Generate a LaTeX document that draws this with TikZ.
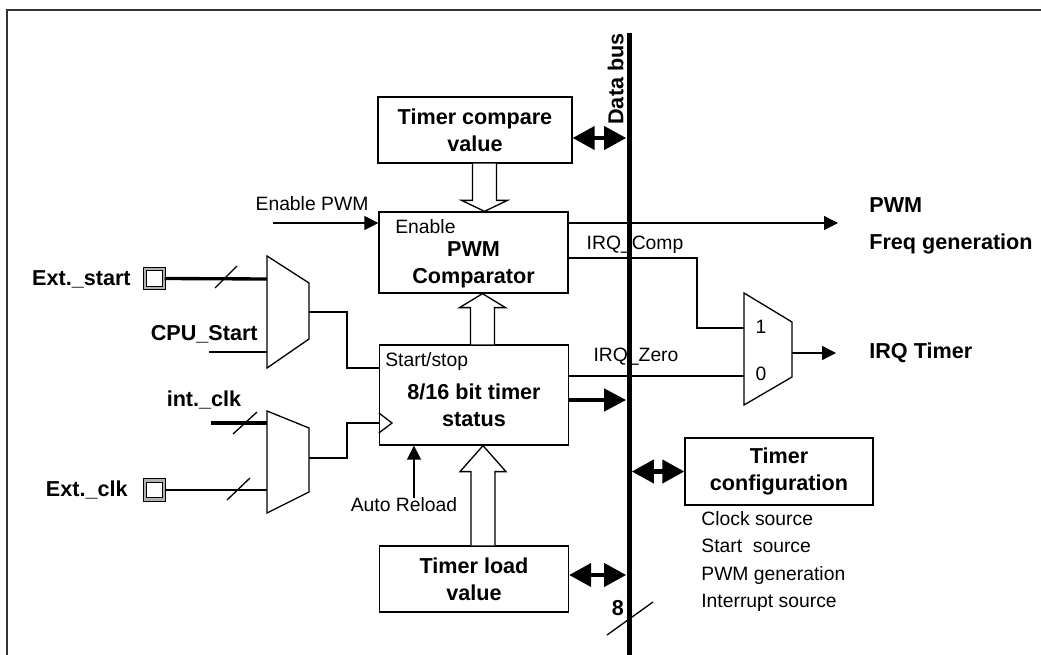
\documentclass[tikz,border=0pt]{standalone}
\usepackage{fontspec}
\setmainfont{Liberation Sans}
\usetikzlibrary{arrows.meta,calc}

% block arrow: x, tail anchor, tip anchor, signed head length
\newcommand{\hollowarrow}[4]{%
  \draw[hollow] (#1-12,0 |- #2) -- ($(#1-12,0 |- #3)+(0,#4)$) -- ($(#1-23,0 |- #3)+(0,#4)$)
    -- (#1,0 |- #3) -- ($(#1+23,0 |- #3)+(0,#4)$) -- ($(#1+12,0 |- #3)+(0,#4)$) -- (#1+12,0 |- #2);}

\begin{document}
\begin{tikzpicture}[x=0.02cm, y=-0.02cm,
  every node/.style={inner sep=0pt, font=\fontsize{11}{13}\selectfont},
  blk/.style={draw, line width=0.75pt, minimum width=3.78cm},
  btxt/.style={font=\fontsize{12.3}{15.3}\selectfont\bfseries, align=center},
  wire/.style={line width=0.75pt},
  arr/.style={wire, -{Triangle[length=0.28cm, width=0.28cm]}},
  fat/.style={line width=2.3pt, -{Triangle[length=0.44cm, width=0.44cm]}},
  bidir/.style={line width=2.3pt, {Triangle[length=0.44cm, width=0.46cm]}-{Triangle[length=0.44cm, width=0.46cm]}},
  hollow/.style={draw, line width=0.75pt, fill=white},
  pad/.style={draw=black, line width=0.6pt, double=gray!60, double distance=1.4pt, fill=white, minimum size=0.38cm},
  mux/.style={draw, line width=0.75pt, fill=white}]

\useasboundingbox (0,0) rectangle (1041,655);
\draw[line width=1pt, black!80] (7,655) -- (7,10) -- (1041,10);

% Blocks
\node[blk, btxt, minimum width=3.88cm, minimum height=1.32cm] (cv) at (475,130) {Timer compare\\value};
\node[blk, minimum height=1.62cm] (cmp) at (473.5,252.5) {};
\node[blk, minimum height=2cm] (tmr) at (474,395) {};
\node[blk, btxt, minimum height=1.32cm] (ld) at (474,579) {Timer load\\value};
\node[blk, btxt, minimum width=3.76cm, minimum height=1.34cm] (cfg) at (779,471.5) {Timer\\configuration};

\node[anchor=west] (cmpen) at (395,227) {Enable};
\node[btxt] (cmptxt) at (473.5,265) {PWM\\Comparator};
\node[anchor=west] (tmrst) at (385,362) {Start/stop};
\node[btxt] (tmrtxt) at (474,405) {8/16 bit timer\\status};
\node[anchor=north west, align=left, font=\fontsize{11}{15.6}\selectfont] (cfgl) at (701,511)
  {Clock source\\Start~ source\\PWM generation\\Interrupt source};

% Block arrows
\hollowarrow{484.5}{cv.south}{cmp.north}{-11}
\hollowarrow{482.5}{tmr.north}{cmp.south}{14}
\hollowarrow{483}{ld.north}{tmr.south}{26}

% Muxes
\draw[mux] (267,256) -- (309,283) -- (309,339) -- (267,368) -- cycle;
\coordinate (smux-a) at (267,279);
\coordinate (smux-b) at (267,352);
\coordinate (smux-o) at (309,312);
\draw[mux] (267,411) -- (309,428) -- (309,492) -- (267,513) -- cycle;
\coordinate (cmux-a) at (267,423);
\coordinate (cmux-b) at (267,490);
\coordinate (cmux-o) at (309,458);
\draw[mux] (744,293) -- (792,322) -- (792,377) -- (744,405) -- cycle;
\coordinate (imux-1) at (744,328);
\coordinate (imux-0) at (744,376);
\coordinate (imux-o) at (792,353);
\node (m1) at (761,327) {1};
\node (m0) at (761,374) {0};

% Inputs
\node[pad] (pst) at (154.5,278.5) {};
\node[btxt, anchor=east] (lst) at (131,279) {Ext.\_start};
\node[btxt, anchor=east] (lcpu) at (258,334) {CPU\_Start};
\node[btxt] (lint) at (204,400) {int.\_clk};
\node[pad] (pclk) at (154.5,490) {};
\node[btxt, anchor=east] (lclk) at (128,490) {Ext.\_clk};
\coordinate (cpu) at (209,352);
\coordinate (intc) at (211,423);

\draw[line width=1.9pt] (pst.east) -- (smux-a);
\draw[wire] (215,288) -- (237,266);
\draw[wire] (cpu) -- (smux-b);
\draw[line width=2.5pt] (intc) -- (cmux-a);
\draw[wire] (233,434) -- (257,412);
\draw[line width=1.3pt] (pclk.east) -- (cmux-b);
\draw[wire] (227,500) -- (250,478);

% Timer inputs
\coordinate (tmr-st) at (tmr.west |- 0,368);
\coordinate (tmr-ck) at (tmr.west |- 0,423);
\draw[wire] (smux-o) -| (347,340) |- (tmr-st);
\draw[wire] (cmux-o) -| (347,440) |- (tmr-ck);
\draw[wire] (tmr.west |- 0,413) -- (392,423) -- (tmr.west |- 0,433);
\node (arl) at (404,505) {Auto Reload};
\draw[arr] (arl.north -| 414,0) -- (tmr.south -| 414,0);

\node (lenp) at (312,204) {Enable PWM};
\coordinate (enp) at (273,223);
\draw[arr] (enp) -- (cmp.west |- enp);

% Outputs
\coordinate (pwmo) at (838,223);
\coordinate (irqo) at (836,353);
\draw[arr] (cmp.east |- 0,223) -- (pwmo);
\draw[wire] (cmp.east |- 0,258) -| (697,300) |- (imux-1);
\draw[wire] (tmr.east |- 0,376) -- (imux-0);
\draw[arr] (imux-o) -- (irqo);
\node (lcmp) at (635,245) {IRQ\_Comp};
\node (lzero) at (636,357) {IRQ\_Zero};
\node[btxt, anchor=west] (lpwm) at (869,205) {PWM};
\node[btxt, anchor=west] (lfreq) at (869,244) {Freq generation};
\node[btxt, anchor=west] (lirq) at (869,353) {IRQ Timer};

% Data bus
\node[fill=black, minimum width=0.1cm, minimum height=12.44cm] (bus) at (629,344) {};
\node[btxt, rotate=90, anchor=south east] (lbus) at (624,33) {Data bus};
\draw[bidir] (cv.east |- 0,138) -- (bus.west |- 0,138);
\draw[fat] (tmr.east |- 0,400) -- (bus.west |- 0,400);
\draw[bidir] (ld.east |- 0,575) -- (bus.west |- 0,575);
\draw[bidir] (bus.east |- cfg.west) -- (cfg.west);
\node[btxt] (l8) at (618,608) {8};
\draw[wire] (607,635) -- (653,602);
\end{tikzpicture}
\end{document}
